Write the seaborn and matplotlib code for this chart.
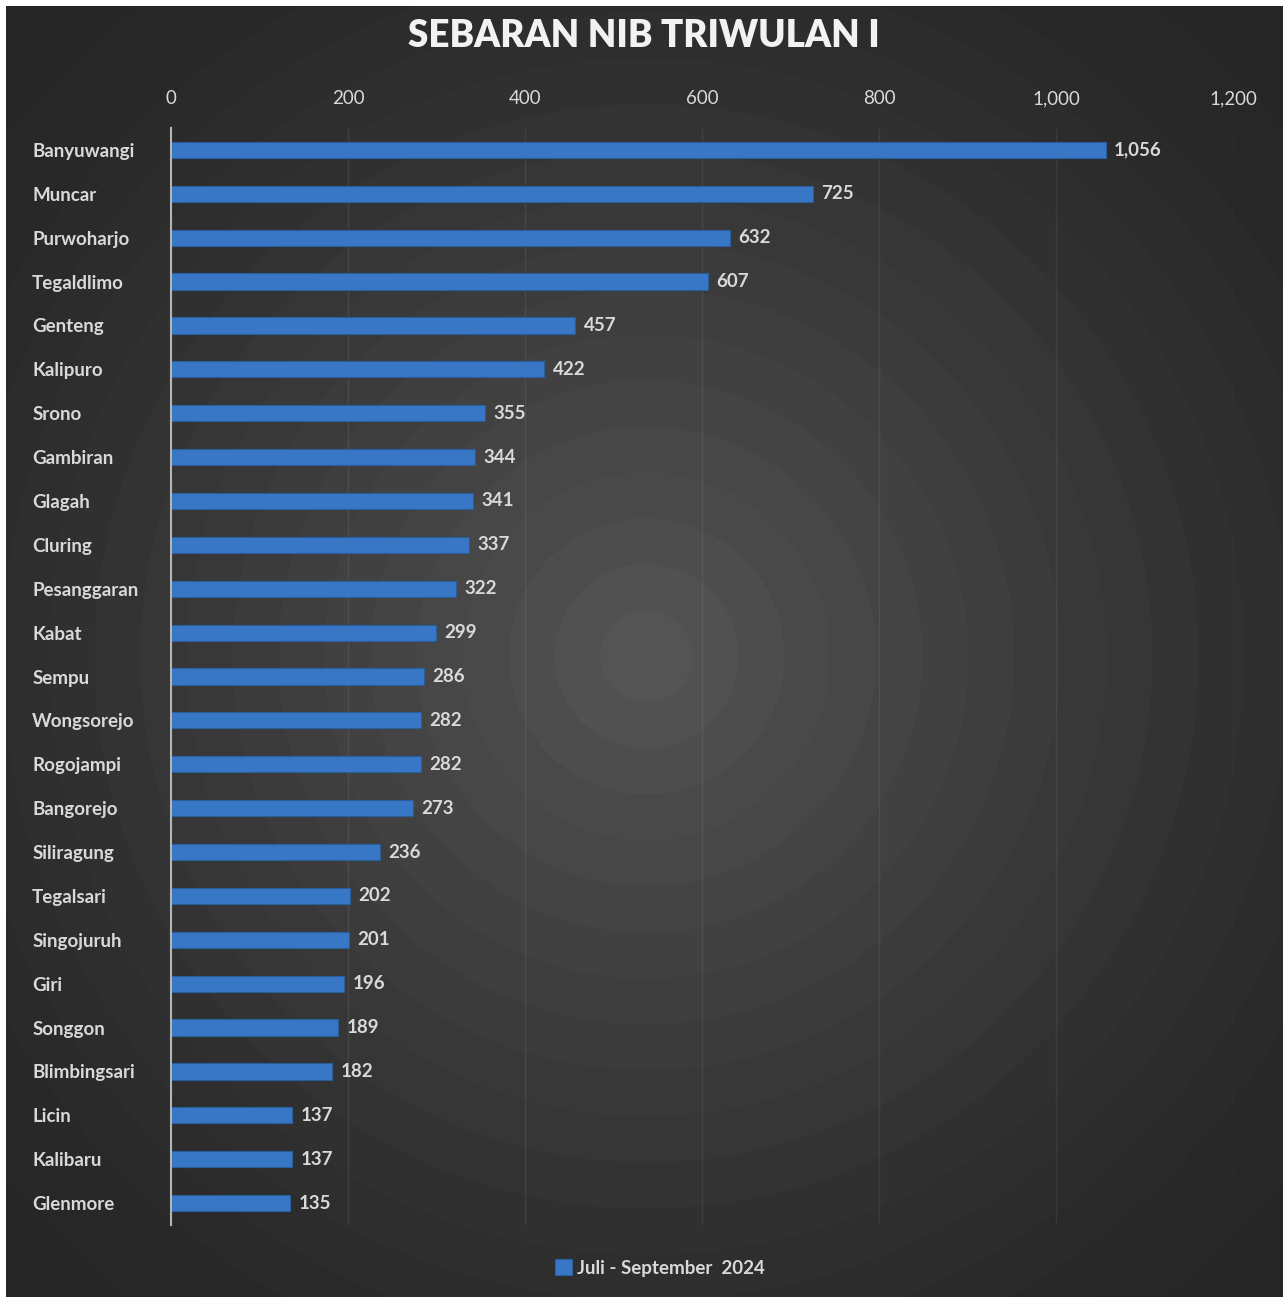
import seaborn as sns
import matplotlib.pyplot as plt
import numpy as np
import pandas as pd

# data
kecamatan = ['Banyuwangi', 'Muncar', 'Purwoharjo', 'Tegaldlimo', 'Genteng', 'Kalipuro',
             'Srono', 'Gambiran', 'Glagah', 'Cluring', 'Pesanggaran', 'Kabat', 'Sempu',
             'Wongsorejo', 'Rogojampi', 'Bangorejo', 'Siliragung', 'Tegalsari',
             'Singojuruh', 'Giri', 'Songgon', 'Blimbingsari', 'Licin', 'Kalibaru', 'Glenmore']
jumlah_nib = [1056, 725, 632, 607, 457, 422, 355, 344, 341, 337, 322, 299, 286,
              282, 282, 273, 236, 202, 201, 196, 189, 182, 137, 137, 135]
x_ticks = [0, 200, 400, 600, 800, 1000, 1200]
series_name = 'Juli - September  2024'
title = 'SEBARAN NIB TRIWULAN I'

df = pd.DataFrame({'kecamatan': kecamatan, 'nib': jumlah_nib})

sns.set_theme(style='dark')
plt.rcParams['font.family'] = ['Lato', 'DejaVu Sans']

W, H = 1287, 1301
fig = plt.figure(figsize=(W / 100, H / 100), dpi=100, facecolor='white')

# dark radial background with soft rings (like the Excel chart style)
bg = fig.add_axes([6 / W, 4 / H, 1277 / W, 1291 / H])
yy, xx = np.mgrid[0:1291, 0:1277]
r = np.hypot(xx - 640, yy - 650)
r = np.floor(r / 46) * 46
level = np.clip(1 - r / 820, 0, 1)
shade = 0.15 + 0.18 * level ** 1.3
bg.imshow(shade, cmap='gray', vmin=0, vmax=1, aspect='auto', interpolation='bilinear')
bg.set_axis_off()

ax = fig.add_axes([171 / W, 1 - 1225 / H, 1062 / W, 1097 / H])
ax.patch.set_alpha(0)

sns.barplot(data=df, x='nib', y='kecamatan', orient='h', color='#3876c6',
            width=0.37, edgecolor='#2a5d9e', linewidth=0.8, saturation=1,
            label=series_name, ax=ax)

ax.set_xlim(0, 1200)
ax.set_xticks(x_ticks)
ax.set_xticklabels([f'{t:,}' for t in x_ticks])
ax.xaxis.tick_top()
ax.grid(axis='x', color='#ffffff', alpha=0.07, linewidth=1)
ax.grid(axis='y', visible=False)
ax.set_axisbelow(True)
ax.set_xlabel('')
ax.set_ylabel('')

for s in ['top', 'right', 'bottom']:
    ax.spines[s].set_visible(False)
ax.spines['left'].set_color('#b5b5b5')
ax.spines['left'].set_linewidth(1.5)

ax.tick_params(axis='x', length=0, pad=15, labelsize=13.5, labelcolor='#d9d9d9')
ax.tick_params(axis='y', length=0, pad=100, labelsize=13.5, labelcolor='#d9d9d9')
for lab in ax.get_yticklabels():
    lab.set_horizontalalignment('left')
    lab.set_fontweight('bold')

ax.bar_label(ax.containers[0], labels=[f'{v:,}' for v in jumlah_nib], padding=6,
             fontsize=13.5, color='#d9d9d9', fontweight='bold')

fig.text(0.5, 1 - 36 / H, title, ha='center', va='center', fontsize=26.5,
         fontweight='heavy', color='#f2f2f2')

leg = ax.legend(loc='center', bbox_to_anchor=(660 / W, 1 - 1268 / H),
                bbox_transform=fig.transFigure, frameon=False, fontsize=13.5,
                handlelength=0.9, handleheight=0.9, handletextpad=0.3)
for t in leg.get_texts():
    t.set_color('#d9d9d9')
    t.set_fontweight('bold')

fig.savefig('out.png', dpi=100, facecolor='white')
